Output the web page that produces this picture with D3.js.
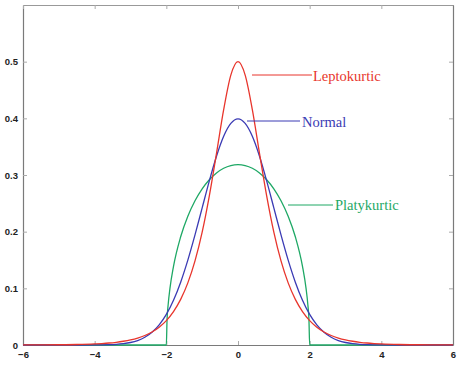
<!DOCTYPE html>
<html><head><meta charset="utf-8">
<script src="https://cdn.jsdelivr.net/npm/d3@7"></script>
<style>body{margin:0;background:#fff}svg{display:block}</style>
</head><body>
<svg id="c" width="459" height="374"></svg>
<script>
// x sample positions (shared by lepto & normal)
const xs = [-6,-5.5,-5,-4.5,-4,-3.8,-3.6,-3.4,-3.2,-3,-2.8,-2.6,-2.4,-2.2,-2,-1.8,-1.6,-1.4,-1.2,-1,-0.8,-0.6,-0.4,-0.2,0,
            0.2,0.4,0.6,0.8,1,1.2,1.4,1.6,1.8,2,2.2,2.4,2.6,2.8,3,3.2,3.4,3.6,3.8,4,4.5,5,5.5,6];
const leptoHalf = [0.0001,0.0002,0.0004,0.00085,0.0019,0.0026,0.0035,0.0048,0.0066,0.0090,0.0123,0.0168,0.0230,0.0315,0.0431,0.0590,0.0805,0.1096,0.1484,0.1993,0.2633,0.3383,0.4153,0.4763,0.5];
const normalHalf = [0,0,0,0,0.0001,0.0003,0.0006,0.0012,0.0024,0.0044,0.0079,0.0136,0.0224,0.0355,0.0540,0.0790,0.1109,0.1497,0.1942,0.2420,0.2897,0.3332,0.3683,0.3910,0.3989];
const leptokurtic = leptoHalf.concat(leptoHalf.slice(0,-1).reverse());
const normal = normalHalf.concat(normalHalf.slice(0,-1).reverse());
// platykurtic has its own samples (steep edges at ±2)
const xsPlaty = [-6,-2,-1.98,-1.95,-1.9,-1.8,-1.6,-1.4,-1.2,-1,-0.8,-0.6,-0.4,-0.2,0,0.2,0.4,0.6,0.8,1,1.2,1.4,1.6,1.8,1.9,1.95,1.98,2,6];
const platykurtic = [0,0,0.0449,0.0707,0.0994,0.1387,0.1910,0.2273,0.2546,0.2757,0.2917,0.3037,0.3119,0.3167,0.3183,0.3167,0.3119,0.3037,0.2917,0.2757,0.2546,0.2273,0.1910,0.1387,0.0994,0.0707,0.0449,0,0];
const xTicks = [-6,-4,-2,0,2,4,6];
const yTicks = [0,0.1,0.2,0.3,0.4,0.5];
const seriesNames = ["Leptokurtic","Normal","Platykurtic"];
const seriesColors = ["#e8352c","#3a3ab4","#1ea865"];

const svg = d3.select("#c");
const L=23, R=453, T=5, B=345;
const x = d3.scaleLinear().domain([-6,6]).range([L,R]);
const y = d3.scaleLinear().domain([0,0.6]).range([B,T]);

// axes box
const axisColor="#7a7a7a";
const gx = svg.append("g").attr("transform",`translate(0,${B})`)
  .call(d3.axisBottom(x).tickValues(xTicks).tickSizeInner(-4).tickSizeOuter(0).tickPadding(6).tickFormat(d3.format("d")));
const gy = svg.append("g").attr("transform",`translate(${L},0)`)
  .call(d3.axisLeft(y).tickValues(yTicks).tickSizeInner(-4).tickSizeOuter(0).tickPadding(5).tickFormat(d=>d===0?"0":d3.format(".1f")(d)));
const gxt = svg.append("g").attr("transform",`translate(0,${T})`)
  .call(d3.axisTop(x).tickValues(xTicks).tickSizeInner(-4).tickSizeOuter(0).tickFormat(""));
const gyr = svg.append("g").attr("transform",`translate(${R},0)`)
  .call(d3.axisRight(y).tickValues(yTicks).tickSizeInner(-4).tickSizeOuter(0).tickFormat(""));
[gx,gy,gxt,gyr].forEach(g=>{
  g.select(".domain").attr("stroke",axisColor).attr("stroke-width",1.2);
  g.selectAll(".tick line").attr("stroke","#aaa");
  g.selectAll("text").attr("fill","#222").style("font-family","'Liberation Sans',Arial,sans-serif").style("font-size","9.5px").style("font-weight","bold");
});
gxt.select(".domain").attr("stroke","#999");

const line = (xv)=>d3.line().x((d,i)=>x(xv[i])).y(d=>y(d)).curve(d3.curveMonotoneX);
const data = [[xs,leptokurtic],[xs,normal],[xsPlaty,platykurtic]];
// draw green first, then blue, then red
[2,1,0].forEach(k=>{
  svg.append("path").datum(data[k][1]).attr("d",line(data[k][0]))
    .attr("fill","none").attr("stroke",seriesColors[k]).attr("stroke-width",1.3);
});

// annotations
const ann = [
  {x1:252,x2:312,y:75,tx:313,ty:81},
  {x1:247,x2:300,y:121,tx:302,ty:127},
  {x1:288,x2:333,y:205,tx:335,ty:210}
];
ann.forEach((a,k)=>{
  svg.append("line").attr("x1",a.x1).attr("x2",a.x2).attr("y1",a.y).attr("y2",a.y)
    .attr("stroke",seriesColors[k]).attr("stroke-width",1);
  svg.append("text").attr("x",a.tx).attr("y",a.ty).text(seriesNames[k])
    .attr("fill",seriesColors[k]).style("font-family","'Liberation Serif','Times New Roman',serif").style("font-size","14.5px");
});
</script>
</body></html>
